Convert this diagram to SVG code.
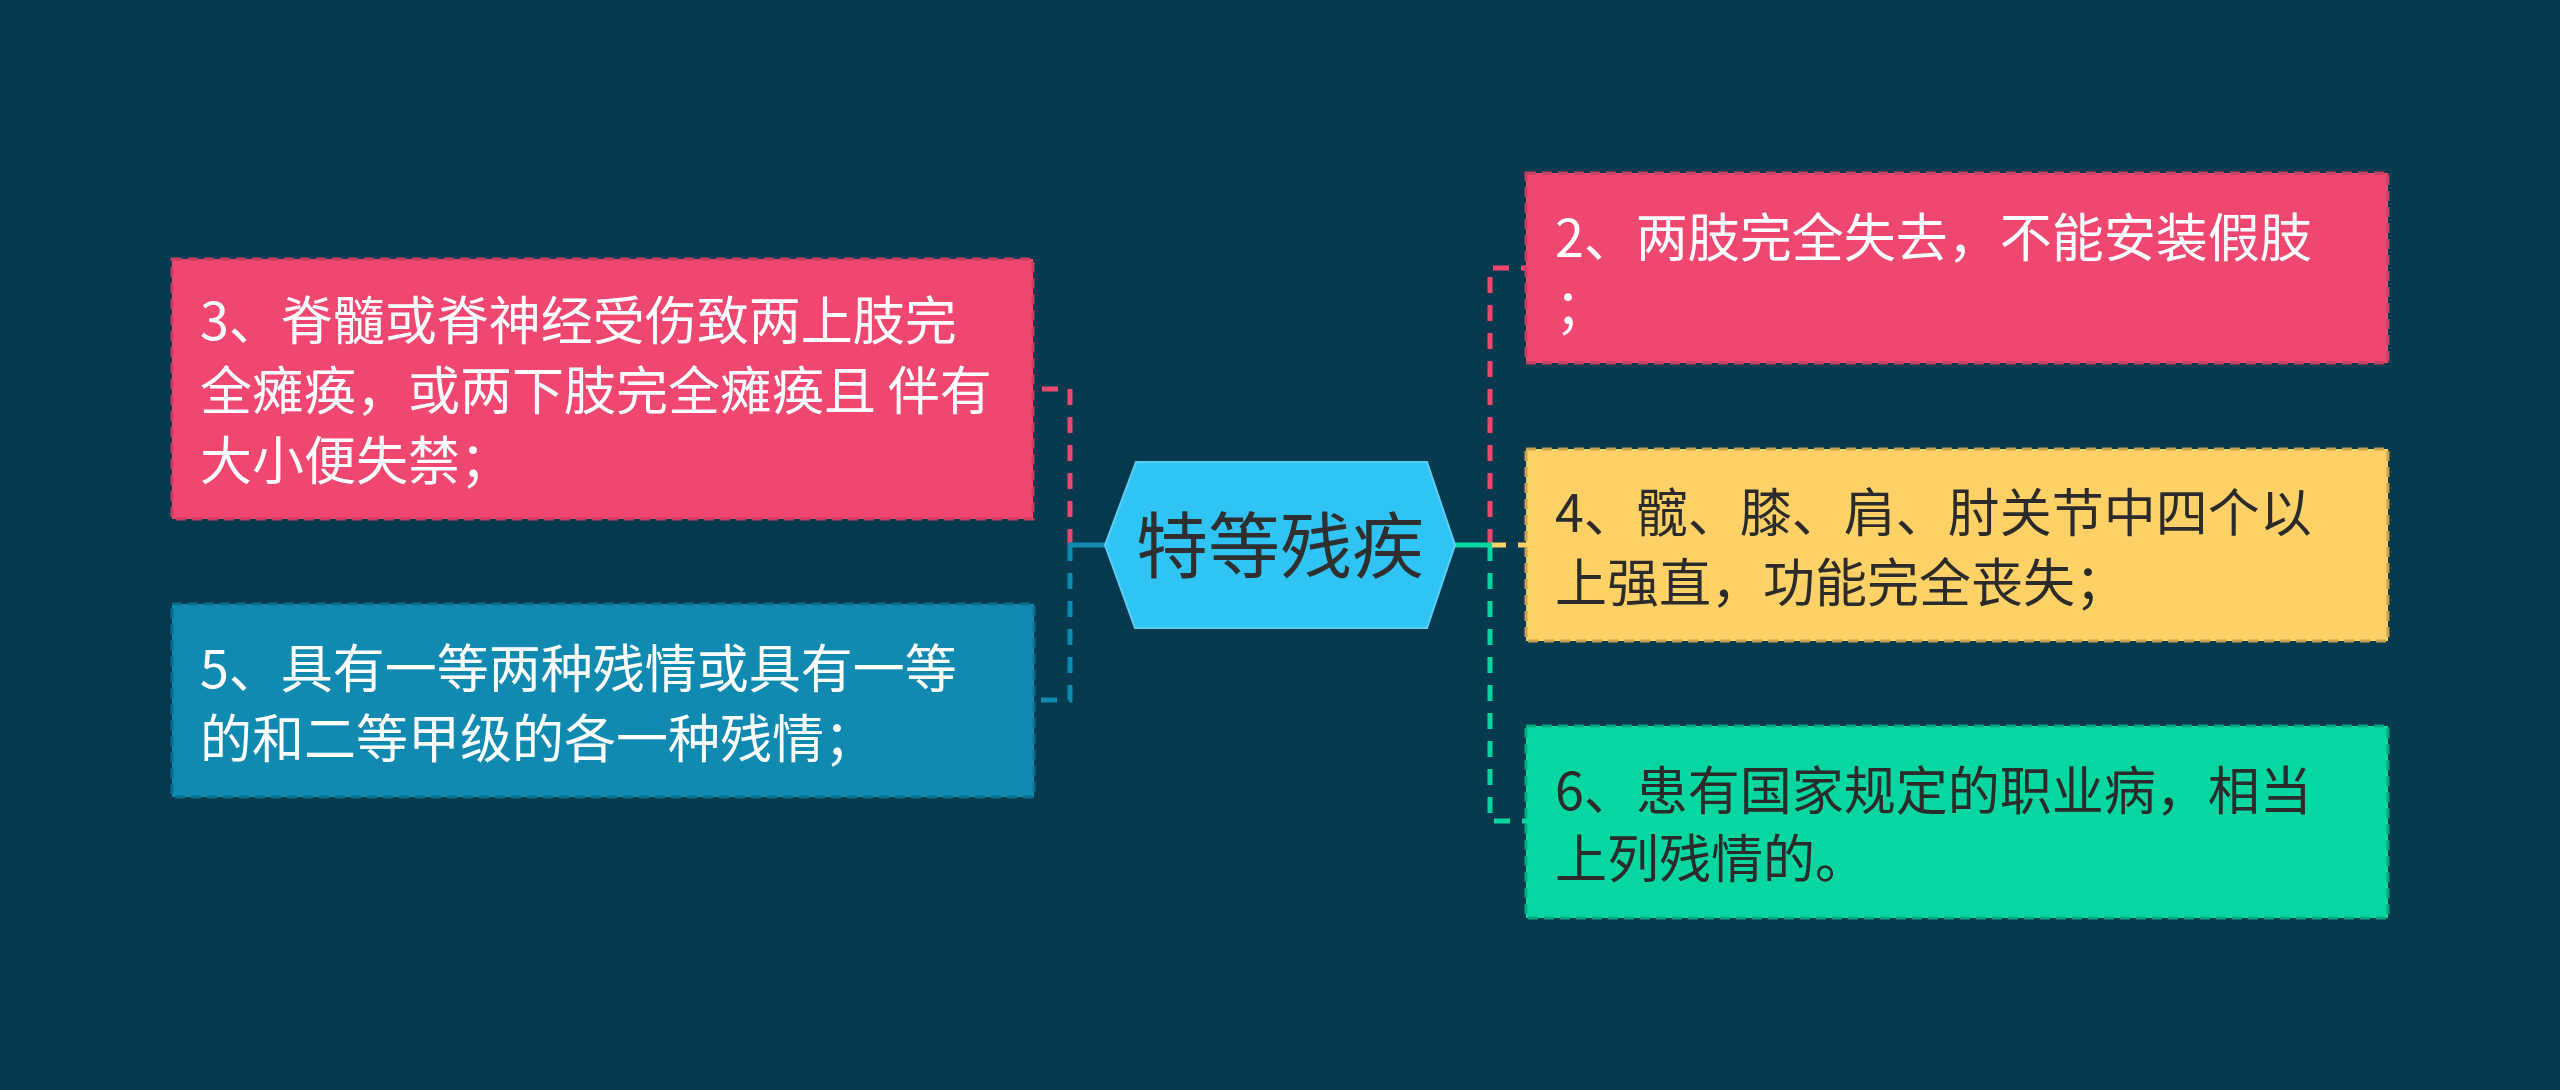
<svg xmlns="http://www.w3.org/2000/svg" width="2560" height="1090" viewBox="0 0 2560 1090">
<style>
.t{font-family:"Noto Sans CJK SC","Noto Sans",sans-serif;font-size:52px}
.w{fill:#ffffff}
.d{fill:#2b2b2b}
.box{stroke-width:3;stroke-dasharray:10 6}
.c{fill:none;stroke-width:5;stroke-dasharray:16 12}
.s{fill:none;stroke-width:5}
</style>
<rect x="0" y="0" width="2560" height="1090" fill="#073a4e"/>
<g id="connectors">
  <path class="c" stroke="#ef476f" d="M1070,545 V389 H1033"/>
  <path class="c" stroke="#118ab2" d="M1070,545 V700 H1034"/>
  <path class="s" stroke="#118ab2" d="M1105,545 H1068"/>
  <path class="c" stroke="#ef476f" d="M1490,545 V268 H1526"/>
  <path class="c" stroke="#06d6a0" d="M1490,545 V821 H1526"/>
  <path class="c" stroke="#ffd166" d="M1490,545 H1526"/>
  <path class="s" stroke="#06d6a0" d="M1455,545 H1492"/>
</g>
<g id="center">
  <polygon points="1105,545 1136,462 1427,462 1455,545 1427,628 1135,628" fill="#2fc4f4" stroke="#5ccff3" stroke-width="2"/>
  <text x="1280" y="572" text-anchor="middle" font-family="Noto Sans CJK SC, Noto Sans, sans-serif" font-size="72" fill="#2f2f2f">特等残疾</text>
</g>
<g id="node3">
  <rect class="box" x="172" y="259" width="861" height="260" fill="#ef476f" stroke="#c93d61"/>
  <text class="t w" x="200" y="340">3、脊髓或脊神经受伤致两上肢完</text>
  <text class="t w" x="200" y="410">全瘫痪，或两下肢完全瘫痪且 伴有</text>
  <text class="t w" x="200" y="480">大小便失禁；</text>
</g>
<g id="node5">
  <rect class="box" x="172" y="604" width="862" height="193" fill="#118ab2" stroke="#0d6f90"/>
  <text class="t w" x="200" y="688">5、具有一等两种残情或具有一等</text>
  <text class="t w" x="200" y="758">的和二等甲级的各一种残情；</text>
</g>
<g id="node2">
  <rect class="box" x="1526" y="173" width="862" height="190" fill="#ef476f" stroke="#c93d61"/>
  <text class="t w" x="1555" y="257">2、两肢完全失去，不能安装假肢</text>
  <text class="t w" x="1555" y="327">；</text>
</g>
<g id="node4">
  <rect class="box" x="1526" y="449" width="862" height="192" fill="#ffd166" stroke="#c9a24f"/>
  <text class="t d" x="1555" y="532">4、髋、膝、肩、肘关节中四个以</text>
  <text class="t d" x="1555" y="602">上强直，功能完全丧失；</text>
</g>
<g id="node6">
  <rect class="box" x="1526" y="726" width="862" height="192" fill="#06d6a0" stroke="#05a87e"/>
  <text class="t d" x="1555" y="810">6、患有国家规定的职业病，相当</text>
  <text class="t d" x="1555" y="878">上列残情的。</text>
</g>
</svg>
